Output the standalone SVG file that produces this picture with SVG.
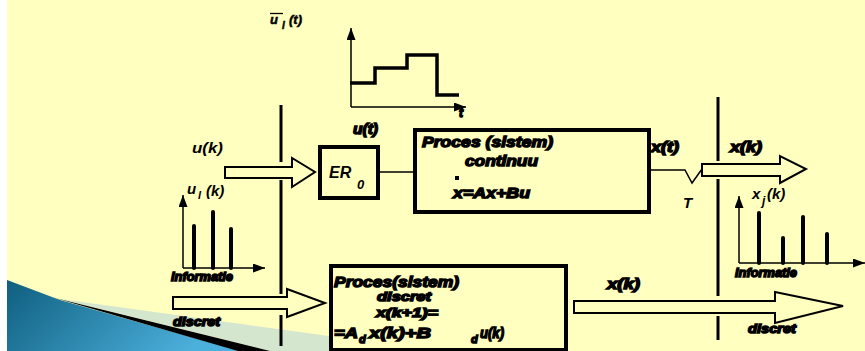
<svg xmlns="http://www.w3.org/2000/svg" width="865" height="351" viewBox="0 0 865 351">
<defs>
<linearGradient id="blue" x1="0" y1="0" x2="1" y2="0.3">
<stop offset="0" stop-color="#0f5f7f"/>
<stop offset="1" stop-color="#4cb0dc"/>
</linearGradient>
<marker id="ah" markerUnits="userSpaceOnUse" markerWidth="12" markerHeight="9" refX="12" refY="4.5" orient="auto">
<path d="M0,0 L12,4.5 L0,9 Z" fill="#000"/>
</marker>
<style>
text{font-family:"Liberation Sans",Arial,sans-serif;font-weight:bold;font-style:italic;fill:#000}
.hv{stroke:#000;stroke-width:1.4}
.box{fill:#FFFFC0;stroke:#000;stroke-width:4}
.blk{fill:#FFFFC0;stroke:#000;stroke-width:2}
.ax{stroke:#000;stroke-width:1.5;fill:none;marker-end:url(#ah)}
.stem{stroke:#000;stroke-width:4;stroke-linecap:round}
.vl{stroke:#000;stroke-width:3}
</style>
</defs>
<rect x="0" y="0" width="865" height="351" fill="#FFFFC0"/>
<rect x="0" y="0" width="7" height="351" fill="#FFFFFF"/>
<g id="decoration">
<polygon points="60,299 438,351 270,351" fill="#d5e6cf"/>
<polygon points="7,280 60,300 240,351 7,351" fill="url(#blue)"/>
<polygon points="55,298 270,351 238,351" fill="#000"/>
</g>

<g id="connectors">
<line class="vl" x1="281" y1="105" x2="281" y2="162"/>
<line class="vl" x1="281" y1="180" x2="281" y2="294"/>
<line class="vl" x1="281" y1="315" x2="281" y2="346"/>
<line class="vl" x1="718" y1="97" x2="718" y2="161"/>
<line class="vl" x1="718" y1="179" x2="718" y2="296"/>
<line class="vl" x1="718" y1="316" x2="718" y2="340"/>
<line x1="378" y1="172" x2="415" y2="172" stroke="#000" stroke-width="1.5"/>
<polyline points="649,170 685,170 692,183 702,169" fill="none" stroke="#000" stroke-width="1.5"/>
<path class="blk" d="M225,167 L292,167 L292,158 L315,172 L292,187 L292,178 L225,178 Z"/>
<path class="blk" d="M702,164 L780,164 L780,156 L806,169 L780,183 L780,176 L702,176 Z"/>
<path class="blk" d="M173,297 L287,297 L287,289 L325,303 L287,317 L287,309 L173,309 Z"/>
<path class="blk" d="M574,301 L775,301 L775,292 L843,306 L775,323 L775,313 L574,313 Z"/>
</g>

<g id="graph-ut">
<line class="ax" x1="351" y1="107" x2="351" y2="28"/>
<line class="ax" x1="351" y1="107" x2="466" y2="107"/>
<polyline points="350,83 375,83 375,68 407,68 407,55 437,55 437,95 459,95" fill="none" stroke="#000" stroke-width="3.5"/>
<line x1="270" y1="13.5" x2="283" y2="13.5" stroke="#000" stroke-width="1.3"/>
<text x="270" y="24" font-size="13" stroke="#000" stroke-width="0.5">u</text>
<text x="282" y="29" font-size="10" stroke="#000" stroke-width="0.5">l</text>
<text x="289" y="24" font-size="13" stroke="#000" stroke-width="0.5">(t)</text>
<text class="hv" x="459" y="117" font-size="12">t</text>
<text class="hv" x="353" y="134" font-size="14" textLength="25" lengthAdjust="spacingAndGlyphs">u(t)</text>
</g>

<g id="graph-uk">
<line class="ax" x1="183" y1="268" x2="183" y2="195"/>
<line class="ax" x1="183" y1="268" x2="265" y2="268"/>
<line class="stem" x1="194" y1="226" x2="194" y2="268"/>
<line class="stem" x1="213" y1="212" x2="213" y2="268"/>
<line class="stem" x1="231" y1="229" x2="231" y2="268"/>
<text x="187" y="194" font-size="15">u</text>
<text x="198" y="199" font-size="11">l</text>
<text x="206" y="196" font-size="15">(k)</text>
<text class="hv" x="171" y="281" font-size="12" textLength="62" lengthAdjust="spacingAndGlyphs">informatie</text>
<text x="192" y="153" font-size="15" textLength="31" lengthAdjust="spacingAndGlyphs">u(k)</text>
<text class="hv" x="173" y="326" font-size="12" textLength="47" lengthAdjust="spacingAndGlyphs">discret</text>
</g>

<g id="er0">
<rect class="box" x="320" y="147" width="58" height="51"/>
<text x="329" y="178" font-size="16">ER</text>
<text x="357" y="189" font-size="13">0</text>
</g>

<g id="proces-continuu">
<rect class="box" x="415" y="130" width="234" height="82"/>
<text class="hv" x="422" y="147" font-size="15" textLength="131" lengthAdjust="spacingAndGlyphs">Proces (sistem)</text>
<text class="hv" x="465" y="166" font-size="15" textLength="73" lengthAdjust="spacingAndGlyphs">continuu</text>
<rect x="455" y="176" width="4" height="4" fill="#000"/>
<text class="hv" x="453" y="198" font-size="15" textLength="77" lengthAdjust="spacingAndGlyphs">x=Ax+Bu</text>
</g>

<g id="sampler-labels">
<text class="hv" x="651" y="152" font-size="14" textLength="28" lengthAdjust="spacingAndGlyphs">x(t)</text>
<text x="683" y="208" font-size="15">T</text>
<text class="hv" x="730" y="152" font-size="14" textLength="32" lengthAdjust="spacingAndGlyphs">x(k)</text>
</g>

<g id="graph-xk">
<line class="ax" x1="739" y1="263" x2="739" y2="196"/>
<line class="ax" x1="739" y1="263" x2="865" y2="263"/>
<line class="stem" x1="759" y1="213" x2="759" y2="263"/>
<line class="stem" x1="783" y1="238" x2="783" y2="263"/>
<line class="stem" x1="803" y1="217" x2="803" y2="263"/>
<line class="stem" x1="827" y1="234" x2="827" y2="263"/>
<text x="752" y="199" font-size="15">x</text>
<text x="762" y="205" font-size="12">j</text>
<text x="767" y="199" font-size="15">(k)</text>
<text class="hv" x="735" y="277" font-size="12" textLength="62" lengthAdjust="spacingAndGlyphs">informatie</text>
<text class="hv" x="748" y="333" font-size="12" textLength="48" lengthAdjust="spacingAndGlyphs">discret</text>
<text class="hv" x="607" y="289" font-size="14" textLength="33" lengthAdjust="spacingAndGlyphs">x(k)</text>
</g>

<g id="proces-discret">
<rect class="box" x="331" y="266" width="235" height="84"/>
<text class="hv" x="334" y="287" font-size="15" textLength="125" lengthAdjust="spacingAndGlyphs">Proces(sistem)</text>
<text class="hv" x="377" y="301" font-size="12.5" textLength="54" lengthAdjust="spacingAndGlyphs">discret</text>
<text class="hv" x="376" y="317" font-size="12.5" textLength="62" lengthAdjust="spacingAndGlyphs">x(k+1)=</text>
<text class="hv" x="334" y="338" font-size="15" textLength="24" lengthAdjust="spacingAndGlyphs">=A</text>
<text class="hv" x="359" y="343" font-size="11">d</text>
<text class="hv" x="369" y="338" font-size="15" textLength="62" lengthAdjust="spacingAndGlyphs">x(k)+B</text>
<text class="hv" x="471" y="343" font-size="11">d</text>
<text class="hv" x="480" y="338" font-size="15" textLength="24" lengthAdjust="spacingAndGlyphs">u(k)</text>
</g>
</svg>
